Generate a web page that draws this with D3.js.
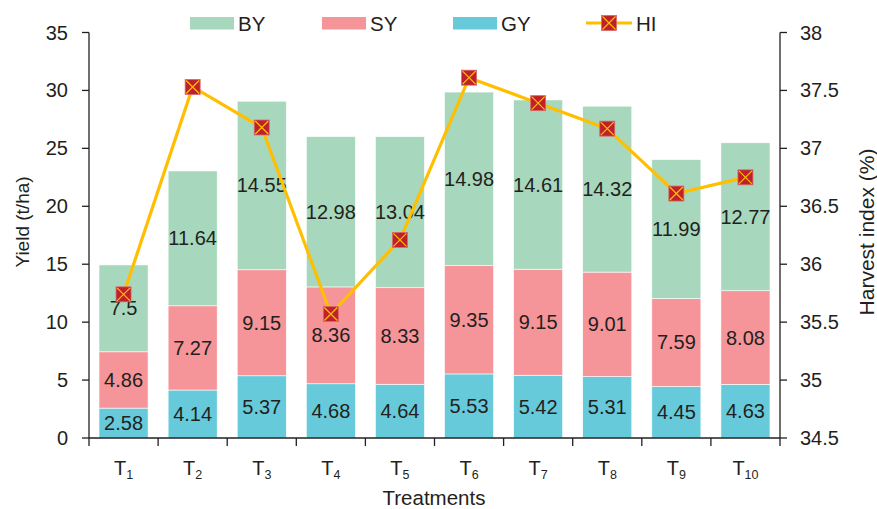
<!DOCTYPE html>
<html><head><meta charset="utf-8">
<script src="https://cdn.jsdelivr.net/npm/d3@7"></script>
<style>body{margin:0;background:#fff}svg{display:block;font-family:"Liberation Sans",Arial,sans-serif}</style>
</head><body>
<svg id="c" width="877" height="509"></svg>
<script>
const categories = ["1","2","3","4","5","6","7","8","9","10"];
const GY = [2.58,4.14,5.37,4.68,4.64,5.53,5.42,5.31,4.45,4.63];
const SY = [4.86,7.27,9.15,8.36,8.33,9.35,9.15,9.01,7.59,8.08];
const BY = [7.5,11.64,14.55,12.98,13.04,14.98,14.61,14.32,11.99,12.77];
const HI = [35.74,37.53,37.18,35.57,36.21,37.61,37.39,37.17,36.61,36.75];
const leftTicks = [0,5,10,15,20,25,30,35];
const rightTicks = [34.5,35,35.5,36,36.5,37,37.5,38];

const colors = {BY:"#a7d8bd", SY:"#f59599", GY:"#66cadb"};
const m = {l:89, r:780, t:32.5, b:438};
const svg = d3.select("#c");
const x = d3.scaleBand().domain(categories).range([m.l,m.r]).paddingInner(0.29).paddingOuter(0.145);
const xOuter = d3.scaleBand().domain(categories).range([m.l,m.r]);
const y = d3.scaleLinear().domain([0,35]).range([m.b,m.t]);
const y2 = d3.scaleLinear().domain([34.5,38]).range([m.b,m.t]);

const series = [["GY",GY],["SY",SY],["BY",BY]];
const g = svg.append("g");
categories.forEach((c,i)=>{
  let base = 0;
  series.forEach(([k,arr])=>{
    const v = arr[i];
    g.append("rect").attr("x",x(c)).attr("width",x.bandwidth())
      .attr("y",y(base+v)).attr("height",y(base)-y(base+v))
      .attr("fill",colors[k]).attr("stroke","#fff").attr("stroke-width",0.6);
    g.append("text").attr("x",x(c)+x.bandwidth()/2).attr("y",y(base+v/2)+7)
      .attr("text-anchor","middle").attr("font-size",20).attr("fill","#231f20").text(v);
    base += v;
  });
});

// axes
const ax = svg.append("g").attr("stroke","#231f20").attr("stroke-width",1.3).attr("fill","none");
ax.append("line").attr("x1",m.l).attr("x2",m.l).attr("y1",m.t).attr("y2",m.b);
ax.append("line").attr("x1",m.r).attr("x2",m.r).attr("y1",m.t).attr("y2",m.b);
ax.append("line").attr("x1",m.l).attr("x2",m.r).attr("y1",m.b).attr("y2",m.b);
leftTicks.forEach(t=>{
  ax.append("line").attr("x1",m.l-7).attr("x2",m.l).attr("y1",y(t)).attr("y2",y(t));
  svg.append("text").attr("x",m.l-21).attr("y",y(t)+7).attr("text-anchor","end")
    .attr("font-size",20).attr("fill","#231f20").text(t);
});
rightTicks.forEach(t=>{
  ax.append("line").attr("x1",m.r).attr("x2",m.r+7).attr("y1",y2(t)).attr("y2",y2(t));
  svg.append("text").attr("x",m.r+20).attr("y",y2(t)+7).attr("text-anchor","start")
    .attr("font-size",20).attr("fill","#231f20").text(t);
});
categories.forEach((c,i)=>{
  ax.append("line").attr("x1",xOuter(c)).attr("x2",xOuter(c)).attr("y1",m.b).attr("y2",m.b+8);
  if(i===categories.length-1) ax.append("line").attr("x1",m.r).attr("x2",m.r).attr("y1",m.b).attr("y2",m.b+8);
  const t = svg.append("text").attr("x",xOuter(c)+xOuter.bandwidth()/2).attr("y",475)
    .attr("text-anchor","middle").attr("font-size",20).attr("fill","#231f20");
  t.append("tspan").text("T");
  t.append("tspan").attr("font-size",12.5).attr("dy",4).text(c);
});
svg.append("text").attr("x",434).attr("y",505).attr("text-anchor","middle")
  .attr("font-size",20.5).attr("fill","#231f20").text("Treatments");
svg.append("text").attr("transform","translate(29,222) rotate(-90)").attr("text-anchor","middle")
  .attr("font-size",19).attr("fill","#231f20").text("Yield (t/ha)");
svg.append("text").attr("transform","translate(874,232) rotate(-90)").attr("text-anchor","middle")
  .attr("font-size",21).attr("fill","#231f20").text("Harvest index (%)");

// HI line
const cx = c => xOuter(c)+xOuter.bandwidth()/2;
svg.append("path").datum(HI).attr("fill","none").attr("stroke","#ffbf00").attr("stroke-width",3.2)
  .attr("d",d3.line().x((d,i)=>cx(categories[i])).y(d=>y2(d)));
function marker(px,py){
  const s=7.5;
  const gm = svg.append("g");
  gm.append("rect").attr("x",px-s).attr("y",py-s).attr("width",2*s).attr("height",2*s)
    .attr("fill","#c0202a").attr("stroke","#d96a6a").attr("stroke-width",0.8);
  gm.append("path").attr("d",`M${px-s+1},${py-s+1}L${px+s-1},${py+s-1}M${px+s-1},${py-s+1}L${px-s+1},${py+s-1}`)
    .attr("stroke","#ffbf00").attr("stroke-width",1.2);
}
HI.forEach((d,i)=>marker(cx(categories[i]),y2(d)));

// legend
const leg = [["BY",190],["SY",322],["GY",453]];
leg.forEach(([k,lx])=>{
  svg.append("rect").attr("x",lx).attr("y",17).attr("width",44).attr("height",12.5).attr("fill",colors[k]);
  svg.append("text").attr("x",lx+48).attr("y",30.5).attr("font-size",20.5).attr("fill","#231f20").text(k);
});
svg.append("line").attr("x1",586).attr("x2",632).attr("y1",23).attr("y2",23).attr("stroke","#ffbf00").attr("stroke-width",3.2);
marker(609,23);
svg.append("text").attr("x",636).attr("y",30.5).attr("font-size",20.5).attr("fill","#231f20").text("HI");
</script>
</body></html>
